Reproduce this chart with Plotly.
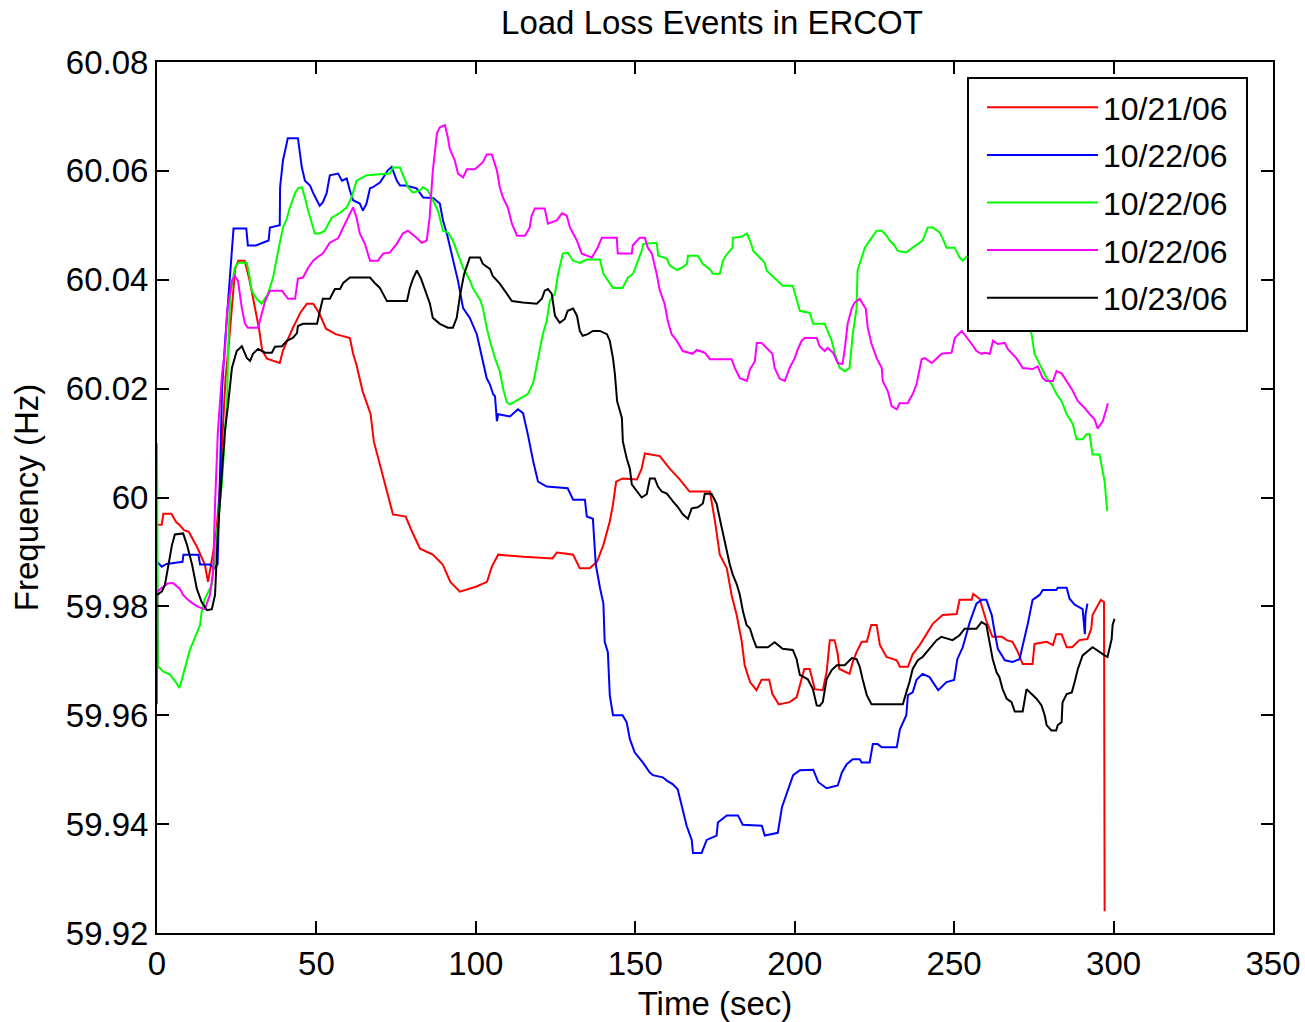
import plotly.graph_objects as go

# ---------------- data ----------------
red_t = [0, 1.5, 2, 4.5, 6, 7, 8.5, 10, 11.5, 12.5, 14, 15, 16, 17, 17.5, 18.5, 19.5, 20.5, 21.5, 22.5,
         23.5, 24.5, 25.5, 27.5, 29, 31, 32, 33, 34.5, 38.5, 39.5, 42.5, 45, 47, 49, 51, 53, 56, 60.5, 61.5,
         62.5, 64.5, 67, 68, 70, 72, 74, 78, 80, 82.5, 86.5, 89.6, 92, 95, 100, 103.5, 105, 107, 115, 124,
         125.4, 128, 130.5, 132.6, 135.7, 138, 140, 142, 143, 144, 146, 150.5, 152, 153, 157.7, 160.8, 164,
         167, 173.4, 175, 176.5, 178.7, 180.2, 181.8, 183.4, 184.3, 186, 188, 189.6, 192, 193, 195, 198.4,
         200.6, 202.2, 203, 204.7, 206.3, 208.8, 210, 211, 212.5, 213.5, 214, 217.2, 218.2, 219.4, 221,
         222.6, 224, 225.7, 226.7, 228.8, 232, 233, 235.5, 237, 239.2, 240.8, 243.3, 246.4, 250.8, 251.7,
         255.5, 256, 257, 258, 260, 262, 265, 266.5, 268.3, 270, 271.5, 274.6, 275.2, 279, 281, 282, 283.7,
         285.3, 287, 289.3, 291.8, 293, 293.4, 295, 296, 297, 297.2]
red_f = [59.995, 59.995, 59.997, 59.997, 59.9955, 59.995, 59.994, 59.9937, 59.992, 59.991, 59.989, 59.9877,
         59.9845, 59.988, 59.99, 59.993, 60.000, 60.012, 60.022, 60.028, 60.035, 60.042, 60.0435, 60.0435,
         60.040, 60.034, 60.031, 60.027, 60.0255, 60.0247, 60.027, 60.031, 60.034, 60.0356, 60.0356,
         60.0337, 60.031, 60.030, 60.0293, 60.0264, 60.0245, 60.0195, 60.0153, 60.0103, 60.006, 60.0017,
         59.9969, 59.9965, 59.9937, 59.9906, 59.9895, 59.9877, 59.9845, 59.9827, 59.9836, 59.9845, 59.9873,
         59.9895, 59.9891, 59.9888, 59.9899, 59.9897, 59.9895, 59.987, 59.987, 59.9882, 59.9913, 59.9956,
         59.9987, 60.0029, 60.0035, 60.0033, 60.0053, 60.0081, 60.0076, 60.0053, 60.0033, 60.0011, 60.0011,
         59.9956, 59.9895, 59.987, 59.9821, 59.9784, 59.9735, 59.9692, 59.9661, 59.9646, 59.9665, 59.9665,
         59.9639, 59.962, 59.9624, 59.9633, 59.9666, 59.9685, 59.9685, 59.9648, 59.9646, 59.9679, 59.9738,
         59.9738, 59.9712, 59.9685, 59.9676, 59.9698, 59.9716, 59.9735, 59.9735, 59.9766, 59.9766, 59.9729,
         59.9707, 59.9701, 59.9689, 59.9689, 59.9712, 59.9729, 59.9744, 59.9768, 59.9784, 59.9786, 59.9812,
         59.9812, 59.9823, 59.9818, 59.9814, 59.9775, 59.9744, 59.9744, 59.9738, 59.9735, 59.9716, 59.9694,
         59.9694, 59.9731, 59.9735, 59.9729, 59.9749, 59.9749, 59.9725, 59.9725, 59.9738, 59.974, 59.9759,
         59.9784, 59.9803, 59.9812, 59.9808, 59.924]

blue_t = [0, 1.5, 3, 8, 8.3, 13, 13.5, 16.6, 18, 19, 19.8, 20.4, 21.3, 23, 24, 28, 28.5, 31, 33, 35, 35.4,
          38.5, 38.6, 39.5, 40.7, 41, 44.2, 45.4, 46.4, 48, 49, 51, 52, 53.2, 54.2, 56.8, 58, 59.5, 60.5,
          61.5, 63.6, 64.6, 65.7, 66.8, 67.7, 70, 72.4, 73.6, 75.2, 76.2, 78, 81.4, 83.5, 86.6, 88.7, 89.7,
          90.9, 92.8, 94.4, 96, 98.1, 100.3, 101.9, 103.4, 104.4, 105.4, 106, 106.6, 107, 110.7, 113.2,
          114.8, 116.3, 118, 119.5, 122.2, 128.8, 130.5, 134.2, 134.8, 136.7, 137.6, 139, 140, 140.4, 141.4,
          142, 143, 146, 147.3, 148.3, 149.8, 152.4, 154.5, 155.5, 158.6, 159.9, 161.8, 163.3, 164.6, 166.1,
          167.7, 168.1, 170.8, 172.4, 175.5, 175.9, 178.7, 182.2, 183.7, 189.7, 190.6, 194.7, 196, 197.5,
          199.5, 201.6, 205.8, 207.4, 210, 213.5, 214.8, 216.3, 218.2, 220.4, 221, 223.5, 224.5, 226, 227.3,
          232, 233, 235, 235.5, 237, 238.2, 240.1, 242.3, 245, 247.6, 250, 251, 252.7, 254.9, 257, 258.6,
          260.1, 261.8, 262.7, 263.7, 265.9, 268.3, 270.5, 272.1, 273.1, 274.6, 276.8, 277.8, 282, 282.5,
          285.3, 286.2, 287.8, 290.3, 291, 291.2, 291.8]
blue_f = [59.9882, 59.9873, 59.9878, 59.9882, 59.9895, 59.9895, 59.9877, 59.9877, 59.987, 59.9877, 60.005,
          60.02, 60.0282, 60.0411, 60.0494, 60.0494, 60.0463, 60.0463, 60.0468, 60.0472, 60.0496, 60.05,
          60.057, 60.0619, 60.0651, 60.066, 60.066, 60.0607, 60.0582, 60.0573, 60.0559, 60.0536, 60.0542,
          60.0559, 60.0592, 60.0595, 60.0582, 60.0586, 60.0564, 60.0546, 60.054, 60.0527, 60.054, 60.0568,
          60.057, 60.0579, 60.0601, 60.0607, 60.0582, 60.0573, 60.0573, 60.0568, 60.0551, 60.055, 60.054,
          60.0509, 60.0485, 60.0435, 60.0398, 60.0348, 60.033, 60.03, 60.0256, 60.0219, 60.0208, 60.019,
          60.0186, 60.014, 60.0153, 60.0149, 60.0162, 60.0155, 60.0116, 60.0066, 60.0029, 60.002, 60.0017,
          59.9996, 59.9996, 59.9965, 59.9961, 59.9877, 59.9832, 59.9805, 59.9735, 59.9716, 59.9637, 59.96,
          59.96, 59.9587, 59.9556, 59.9532, 59.9513, 59.9495, 59.949, 59.9486, 59.948, 59.9473, 59.9464,
          59.9431, 59.9397, 59.9371, 59.9347, 59.9347, 59.9371, 59.9379, 59.9403, 59.9416, 59.9416, 59.9399,
          59.9397, 59.9379, 59.9384, 59.9431, 59.9458, 59.949, 59.9499, 59.95, 59.9477, 59.9466, 59.9471,
          59.9495, 59.951, 59.9519, 59.9519, 59.9513, 59.9513, 59.9547, 59.9547, 59.9541, 59.9541, 59.9574,
          59.96, 59.9637, 59.9642, 59.9665, 59.9676, 59.967, 59.9646, 59.9661, 59.9665, 59.9703, 59.9725,
          59.9771, 59.9805, 59.9812, 59.9812, 59.9784, 59.9753, 59.9722, 59.9701, 59.9698, 59.9703, 59.974,
          59.9768, 59.9812, 59.9821, 59.983, 59.983, 59.9834, 59.9834, 59.9814, 59.9803, 59.9795, 59.9749,
          59.9785, 59.9805]

green_t = [0, 0.3, 2, 4, 6, 7, 8, 9, 10.3, 12, 13.5, 14, 15, 17.2, 18.8, 20.4, 22, 22.3, 23, 24.4, 25.5,
           28.2, 29.1, 29.7, 31.2, 32.8, 34.8, 36.4, 38, 39.5, 40.7, 41.7, 43.3, 44.2, 45.4, 46.4, 47.4,
           48.5, 49.5, 51, 52.6, 54.8, 57.4, 59.5, 61, 62.6, 65.8, 73, 74, 76.2, 77.1, 78.7, 80.3, 82.4,
           83.4, 85, 86.5, 88.1, 89.7, 91.2, 92.8, 94.4, 96, 98.2, 99, 101.3, 102.2, 103.4, 104.4, 106,
           107.5, 108.5, 109.7, 110.7, 113.8, 116.3, 118, 119.5, 121, 122.2, 123.2, 124.8, 125.8, 127.3,
           128.8, 130.5, 132.6, 134.8, 138.9, 140, 141.5, 143, 146, 147.7, 149.3, 150.8, 152, 152.5, 156.7,
           157.2, 159.9, 160.8, 163, 164.6, 166.2, 166.5, 169.6, 171.2, 173.3, 174.4, 176.5, 177.5, 178.6,
           180.5, 180.6, 183.3, 185, 186, 187, 189, 190.6, 191.2, 193, 196.2, 199.4, 200.6, 201.6, 204.7,
           205.8, 209.4, 210.4, 211.6, 212.6, 214.1, 215.7, 217.2, 218.2, 219.4, 219.7, 221, 222, 223.5,
           225.7, 227.3, 228.8, 229.8, 231.3, 232.3, 235, 237, 238.6, 240.1, 241.7, 243.3, 245.4, 246.4,
           247.6, 250.2, 251.7, 252.7, 254.2, 258, 264, 270, 274.3, 275.2, 276.8, 277.8, 279, 280.6, 282.1,
           283.7, 285.3, 287.2, 288.4, 290.3, 291.5, 292.5, 293.4, 295.6, 296.2, 297.2, 298]
green_f = [60.010, 59.969, 59.968, 59.9675, 59.966, 59.965, 59.967, 59.969, 59.972, 59.9744, 59.9766, 59.979,
           59.9814, 59.984, 59.9937, 60.0029, 60.0182, 60.0269, 60.0374, 60.0422, 60.0431, 60.0431, 60.0404,
           60.038, 60.0365, 60.0356, 60.0374, 60.0404, 60.0453, 60.0496, 60.0512, 60.0533, 60.0559, 60.0568,
           60.057, 60.0551, 60.0527, 60.0503, 60.0485, 60.0485, 60.049, 60.0514, 60.0523, 60.0533, 60.0551,
           60.0582, 60.0592, 60.0595, 60.0606, 60.0606, 60.0592, 60.057, 60.056, 60.0564, 60.057, 60.0564,
           60.0546, 60.0527, 60.049, 60.0487, 60.0472, 60.0448, 60.0422, 60.0398, 60.0385, 60.0364, 60.0348,
           60.0312, 60.0288, 60.0256, 60.0232, 60.0201, 60.0175, 60.0171, 60.0182, 60.019, 60.0211, 60.0256,
           60.03, 60.0324, 60.0361, 60.0374, 60.0411, 60.0448, 60.045, 60.0435, 60.0431, 60.0437, 60.0437,
           60.0411, 60.0398, 60.0385, 60.0385, 60.0404, 60.0411, 60.0435, 60.0453, 60.0466, 60.0468, 60.0444,
           60.0439, 60.0426, 60.0418, 60.0422, 60.0429, 60.0444, 60.0444, 60.0429, 60.042, 60.0411, 60.0411,
           60.0435, 60.0446, 60.0459, 60.0477, 60.0479, 60.0485, 60.0472, 60.0453, 60.0441, 60.0431, 60.0417,
           60.0407, 60.0389, 60.0389, 60.0365, 60.0343, 60.0339, 60.0319, 60.0319, 60.0306, 60.0288, 60.0264,
           60.0238, 60.0232, 60.0238, 60.03, 60.0348, 60.0417, 60.0441, 60.0459, 60.0472, 60.049, 60.049,
           60.0481, 60.0472, 60.0463, 60.0453, 60.045, 60.0459, 60.0466, 60.0472, 60.0496, 60.0496, 60.0487,
           60.0476, 60.0459, 60.0459, 60.0441, 60.0435, 60.0444, 60.044, 60.041, 60.036, 60.030, 60.0264,
           60.0245, 60.0232, 60.0219, 60.0208, 60.019, 60.0177, 60.0153, 60.0135, 60.0107, 60.0107, 60.0116,
           60.0116, 60.0079, 60.0079, 60.006, 60.0029, 59.9975]

magenta_t = [0, 0.1, 1, 3.4, 5, 7.2, 8.2, 9.7, 11.3, 12.9, 15, 16.6, 17.6, 18.2, 19.1, 20.4, 21.3, 22, 23.5,
             24.4, 25.4, 26.6, 27.6, 28.5, 31.7, 32.9, 33.9, 35.4, 39.2, 41.1, 43.3, 44.2, 45.8, 47.4, 49,
             50.2, 52, 54.2, 56.8, 58.4, 60.5, 61.5, 62.6, 63.6, 65.2, 66.8, 69.3, 70.9, 73, 75.2, 77.1, 78.7,
             81.4, 83, 84.6, 85.5, 86.5, 87.8, 88.7, 90.3, 91.2, 91.8, 93.4, 94.4, 96, 97.2, 99.7, 102.2,
             103.4, 105, 106.6, 107.5, 108.5, 110, 111.3, 112.9, 115.4, 116.9, 117.5, 118.5, 121.6, 122.6,
             125.4, 127, 128.5, 129.5, 130.5, 131.7, 133.2, 136.4, 138.2, 139.5, 144.2, 144.5, 148.9, 149.2,
             151.4, 153, 153.9, 155.2, 156.7, 157.7, 159.2, 160.2, 161.4, 163, 164.9, 168, 169.3, 171.8,
             173.4, 180.2, 181.2, 182.8, 185, 186, 187.5, 188.1, 189.6, 191.2, 193, 193.7, 195.3, 196.9,
             198.4, 200, 201, 202.2, 203.1, 206.9, 207.8, 209.4, 210.3, 212, 213.5, 215, 215.7, 216.6, 217.9,
             218.8, 220.4, 221.3, 222.3, 222.9, 224.1, 225.7, 227.3, 227.6, 229.2, 230.4, 232, 232.9, 235.4,
             237, 238.2, 239.8, 240.8, 243, 246.1, 249.2, 250.2, 252.4, 254.2, 255.5, 257, 258.6, 259.5,
             261.2, 262.2, 263.7, 265.9, 266.8, 269.5, 271.5, 274.6, 276.2, 277.8, 279, 281, 282.1, 283.7,
             285.3, 286.9, 288.8, 291, 292.5, 294, 295, 296.6, 297.8, 298.2]
magenta_f = [59.962, 59.9827, 59.9832, 59.9842, 59.9843, 59.9832, 59.9821, 59.9812, 59.9805, 59.9799,
             59.9795, 59.9821, 59.9864, 59.9987, 60.0122, 60.0227, 60.0269, 60.0343, 60.0398, 60.0407,
             60.0398, 60.0348, 60.0319, 60.0312, 60.0312, 60.0339, 60.0361, 60.038, 60.038, 60.0365, 60.0365,
             60.0402, 60.0404, 60.0422, 60.0435, 60.0441, 60.0448, 60.0468, 60.0476, 60.0496, 60.0522,
             60.0533, 60.0514, 60.0485, 60.0466, 60.0435, 60.0435, 60.0448, 60.045, 60.0466, 60.0485, 60.049,
             60.0477, 60.0468, 60.0472, 60.0514, 60.06, 60.0669, 60.068, 60.0684, 60.0662, 60.0641, 60.0619,
             60.0595, 60.0588, 60.0603, 60.0603, 60.0616, 60.063, 60.063, 60.0601, 60.057, 60.0551, 60.0533,
             60.0503, 60.0481, 60.0481, 60.0496, 60.0518, 60.0531, 60.0531, 60.0503, 60.0509, 60.0522,
             60.0518, 60.0496, 60.0485, 60.0472, 60.0448, 60.0441, 60.0459, 60.0477, 60.0477, 60.0448,
             60.0448, 60.0463, 60.0477, 60.0477, 60.0459, 60.0448, 60.0411, 60.038, 60.0356, 60.0324, 60.03,
             60.0288, 60.0269, 60.0264, 60.0271, 60.0266, 60.0254, 60.0254, 60.0238, 60.0219, 60.0214,
             60.0236, 60.025, 60.0284, 60.0284, 60.0275, 60.0264, 60.0238, 60.0218, 60.0214, 60.0238, 60.0256,
             60.0273, 60.0288, 60.0293, 60.0293, 60.0278, 60.0269, 60.0275, 60.0266, 60.0247, 60.0245,
             60.0273, 60.0319, 60.0348, 60.0358, 60.0365, 60.0356, 60.0347, 60.0312, 60.0282, 60.0256,
             60.0238, 60.0214, 60.0195, 60.0168, 60.0162, 60.0173, 60.0173, 60.019, 60.0208, 60.0254, 60.0256,
             60.0247, 60.0264, 60.0266, 60.0293, 60.0306, 60.0293, 60.0282, 60.0269, 60.0264, 60.0266,
             60.0264, 60.0288, 60.0282, 60.0284, 60.0273, 60.0256, 60.0238, 60.0236, 60.0241, 60.0219,
             60.0214, 60.0214, 60.0232, 60.0228, 60.0214, 60.0199, 60.0177, 60.0164, 60.0153, 60.0144,
             60.0127, 60.014, 60.0164, 60.0173]

black_t = [0, 1.5, 2.5, 3.5, 4.7, 5.6, 8.2, 9.4, 11, 12.5, 14, 15.7, 17.2, 18.2, 19.1, 20.4, 21.3, 22.3,
           23.5, 25, 26.6, 28.2, 29.2, 30.1, 31.7, 33.9, 36, 37, 39.2, 40.7, 42.6, 43.9, 44.2, 45.8, 50.2,
           51.1, 52, 54.2, 55.8, 57.4, 58.4, 60.5, 66.8, 68.3, 69.9, 70.9, 72.1, 78.4, 79.3, 80.3, 81.5,
           82.8, 84, 85.6, 86.5, 88.7, 91.2, 92.8, 94, 95, 96.3, 98.1, 101.3, 102.2, 104.4, 105.3, 107.5,
           108.5, 109.7, 111.3, 114.7, 119.1, 120.7, 121.6, 122.6, 123.8, 124.8, 126.3, 127.9, 128.8, 130.5,
           131.7, 132.6, 133.5, 135.1, 136.7, 138.9, 141.1, 142, 143, 143.6, 144.3, 145.8, 146.1, 147.3,
           148.3, 148.9, 150.5, 152, 153.6, 154.6, 156.1, 157.1, 158.3, 159.9, 161.8, 163.3, 164.9, 166.5,
           167.7, 169.6, 171.2, 171.8, 173.9, 175.5, 176.5, 177.5, 178.6, 179.6, 180.6, 181.8, 182.8, 183.8,
           184.9, 186, 187, 188, 191.6, 193.7, 196.2, 199.4, 200.6, 201.6, 204.1, 205.7, 206.9, 207.8,
           208.8, 210, 211.6, 213.2, 215.7, 217.9, 219.4, 220.4, 221.3, 222.6, 224.1, 233.9, 235, 236, 237,
           238.6, 240.1, 242.3, 244.5, 246, 248, 249.5, 251.7, 253.3, 257, 258.6, 260.1, 261.1, 262.1,
           263.3, 264.2, 265.2, 266.5, 268, 269, 271.5, 272.7, 274.3, 275.9, 277.4, 278.4, 279, 280.5, 282,
           282.5, 283.7, 284, 285.3, 286.9, 287.8, 288.8, 290.3, 292.5, 293.4, 297.2, 298.1, 299.4, 299.7,
           300.3]
black_f = [59.9821, 59.9827, 59.984, 59.9877, 59.9913, 59.9932, 59.9934, 59.9913, 59.9877, 59.9832,
           59.9808, 59.9793, 59.9795, 59.9821, 59.9937, 60.0048, 60.0122, 60.0171, 60.0238, 60.0269,
           60.0278, 60.0256, 60.0251, 60.0264, 60.0273, 60.0266, 60.0266, 60.0277, 60.0278, 60.0288,
           60.0293, 60.0302, 60.0315, 60.0319, 60.0319, 60.0343, 60.0365, 60.0365, 60.0383, 60.0383,
           60.0394, 60.0404, 60.0404, 60.0394, 60.0385, 60.0374, 60.0361, 60.0361, 60.0385, 60.0402,
           60.0417, 60.0402, 60.0383, 60.0356, 60.033, 60.0319, 60.0312, 60.0312, 60.033, 60.037, 60.041,
           60.0441, 60.0441, 60.0429, 60.042, 60.0407, 60.0393, 60.0385, 60.0374, 60.0361, 60.0358, 60.0356,
           60.0365, 60.038, 60.0383, 60.0374, 60.0334, 60.0321, 60.0328, 60.0343, 60.0347, 60.0334, 60.0306,
           60.0297, 60.03, 60.0306, 60.0306, 60.03, 60.0288, 60.0256, 60.0227, 60.0177, 60.0146, 60.0103,
           60.0072, 60.0053, 60.0024, 60.0011, 60.0, 60.0006, 60.0035, 60.0035, 60.002, 60.0011, 60.0007,
           59.9993, 59.9983, 59.9969, 59.9961, 59.998, 59.9982, 59.9989, 60.0007, 60.0007, 59.9989, 59.9961,
           59.9932, 59.9906, 59.9878, 59.9858, 59.9841, 59.9821, 59.979, 59.9766, 59.9759, 59.974, 59.9725,
           59.9725, 59.9734, 59.9722, 59.972, 59.9703, 59.9674, 59.9666, 59.9648, 59.9618, 59.9617, 59.9624,
           59.9666, 59.9683, 59.9692, 59.9692, 59.9705, 59.9703, 59.9689, 59.9666, 59.9637, 59.962, 59.962,
           59.9642, 59.9661, 59.9685, 59.9701, 59.9707, 59.9722, 59.9738, 59.9744, 59.974, 59.9738, 59.9747,
           59.9759, 59.9759, 59.9771, 59.9766, 59.9735, 59.9703, 59.9679, 59.967, 59.9648, 59.963, 59.9624,
           59.9607, 59.9607, 59.9648, 59.9639, 59.963, 59.9618, 59.96, 59.9582, 59.9572, 59.9572, 59.9582,
           59.9587, 59.9624, 59.9639, 59.9642, 59.9661, 59.9685, 59.971, 59.972, 59.9725, 59.971, 59.9707,
           59.974, 59.9766, 59.9777]

series_names = ["10/21/06", "10/22/06", "10/22/06", "10/22/06", "10/23/06"]
series_colors = ["#FF0000", "#0000FF", "#00FF00", "#FF00FF", "#000000"]
series_t = [red_t, blue_t, green_t, magenta_t, black_t]
series_f = [red_f, blue_f, green_f, magenta_f, black_f]

x_ticks = [0, 50, 100, 150, 200, 250, 300, 350]
x_ticktext = ["0", "50", "100", "150", "200", "250", "300", "350"]
y_ticks = [59.92, 59.94, 59.96, 59.98, 60.0, 60.02, 60.04, 60.06, 60.08]
y_ticktext = ["59.92", "59.94", "59.96", "59.98", "60", "60.02", "60.04", "60.06", "60.08"]

# ---------------- figure ----------------
FONT = "Liberation Sans, Arial, Helvetica, sans-serif"
W, H = 1305, 1022
ML, MR, MT, MB = 157, 32, 62, 89
PW, PH = W - ML - MR, H - MT - MB


def px_to_paper_x(px):
    return (px - ML) / PW


def px_to_paper_y(py):
    return (H - MB - py) / PH


fig = go.Figure()
for i, (name, col, t, f) in enumerate(zip(series_names, series_colors, series_t, series_f)):
    fig.add_trace(go.Scatter(x=t, y=f, mode="lines", name=name, legendgroup=f"g{i}",
                             line=dict(color=col, width=2)))

axis_common = dict(showline=True, linewidth=2, linecolor="black", mirror="ticks",
                   ticks="inside", ticklen=12, tickwidth=2, tickcolor="black",
                   showgrid=False, zeroline=False,
                   tickfont=dict(family=FONT, size=33, color="black"))

# white legend frame (drawn over the data, under the legend entries)
fig.add_shape(type="rect", xref="paper", yref="paper",
              x0=px_to_paper_x(968), x1=px_to_paper_x(1247),
              y0=px_to_paper_y(331), y1=px_to_paper_y(78),
              fillcolor="white", line=dict(color="black", width=2), layer="above")

fig.update_layout(
    width=W, height=H,
    margin=dict(l=ML, r=MR, t=MT, b=MB, autoexpand=False),
    paper_bgcolor="white", plot_bgcolor="white",
    font=dict(family=FONT, size=33, color="black"),
    title=dict(text="Load Loss Events in ERCOT", x=712 / W,
               xanchor="center", y=1 - 22 / H, yanchor="middle", yref="container",
               font=dict(family=FONT, size=33, color="black")),
    xaxis=dict(range=[0, 350], tickvals=x_ticks, ticktext=x_ticktext,
               title=dict(text="Time (sec)", standoff=11,
                          font=dict(family=FONT, size=33, color="black")),
               **axis_common),
    yaxis=dict(range=[59.92, 60.08], tickvals=y_ticks, ticktext=y_ticktext,
               title=dict(text="Frequency (Hz)", standoff=17,
                          font=dict(family=FONT, size=33, color="black")),
               **axis_common),
    legend=dict(x=px_to_paper_x(982), y=px_to_paper_y(80), xanchor="left", yanchor="top",
                bgcolor="rgba(0,0,0,0)", borderwidth=0,
                font=dict(family=FONT, size=32, color="black"),
                itemwidth=111, tracegroupgap=3),
    showlegend=True,
)

fig.write_html("out.html")
